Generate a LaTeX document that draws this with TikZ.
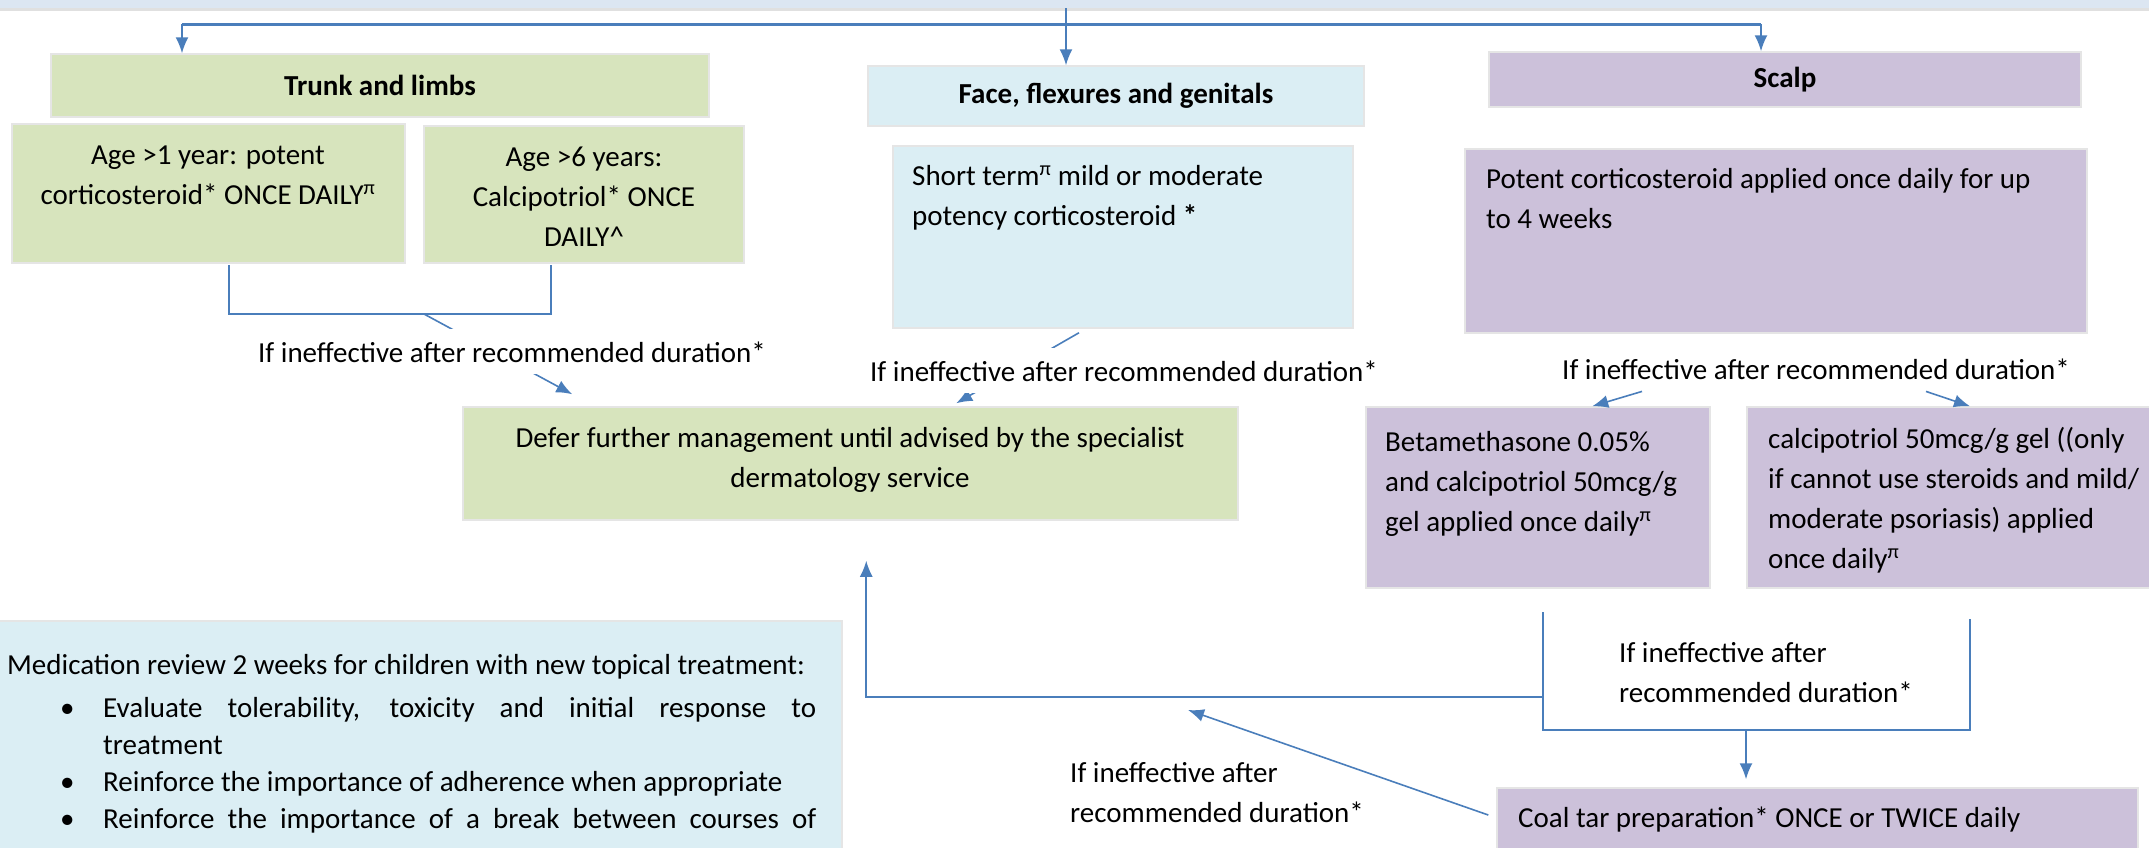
\documentclass[tikz,border=0pt]{standalone}
\usepackage{fontspec}
\setmainfont{Carlito}
\usetikzlibrary{arrows.meta,calc}

\definecolor{boxgreen}{HTML}{D7E4BD}
\definecolor{boxblue}{HTML}{DBEEF4}
\definecolor{boxpurple}{HTML}{CCC1DA}
\definecolor{linkblue}{HTML}{4A7EBB}
\definecolor{bandblue}{HTML}{DCE6F2}

\newcommand{\txtsize}{\fontsize{29}{40}\selectfont}
\newcommand{\lefttxt}[1]{\parbox[t]{700pt}{\raggedright #1}}
\newcommand{\midtxt}[1]{\parbox[t]{800pt}{\centering #1}}

\begin{document}
\begin{tikzpicture}[x=1pt,y=-1pt,font=\txtsize,
	box/.style={rectangle,draw=black!10,line width=1.5pt,inner sep=0pt},
	link/.style={draw=linkblue,line width=1.6pt},
	arr/.style={link,-{Latex[length=16pt,width=13pt]}},
	lbl/.style={anchor=base,fill=white,inner xsep=4pt,inner ysep=12pt},
	txt/.style={anchor=base west,inner sep=0pt}]
	\useasboundingbox (0,0) rectangle (2149,847);
	\begin{scope}
	\clip (0,0) rectangle (2149,847);
	\fill[bandblue] (0,0) rectangle (2149,8);
	\fill[black!12] (0,8) rectangle (2149,11);

	% boxes
	\begin{scope}[every node/.style={box}]
	\node[fill=boxgreen,minimum width=658pt,minimum height=63pt] (trunk) at (380,85.5) {\textbf{Trunk and limbs}};
	\node[fill=boxgreen,minimum width=393pt,minimum height=139pt] (age1) at (208.5,193.5) {};
	\node[fill=boxgreen,minimum width=320pt,minimum height=137pt] (age6) at (584,194.5) {};
	\node[fill=boxblue,minimum width=496pt,minimum height=60pt] (face) at (1116,96) {\textbf{Face, flexures and genitals}};
	\node[fill=boxblue,minimum width=460pt,minimum height=182pt] (facebody) at (1123,237) {};
	\node[fill=boxpurple,minimum width=592pt,minimum height=55pt] (scalp) at (1785,79.5) {\textbf{Scalp}};
	\node[fill=boxpurple,minimum width=622pt,minimum height=184pt] (scalpbody) at (1776,241) {};
	\node[fill=boxgreen,minimum width=775pt,minimum height=113pt] (defer) at (850.5,463.5) {};
	\node[fill=boxpurple,minimum width=344pt,minimum height=181pt] (beta) at (1538,497.5) {};
	\node[fill=boxpurple,minimum width=446pt,minimum height=181pt] (calc) at (1970,497.5) {};
	\node[fill=boxpurple,minimum width=641pt,minimum height=112pt] (coal) at (1817.5,844) {};
	\node[fill=boxblue,minimum width=847pt,minimum height=279pt] (med) at (418.5,760.5) {};
	\end{scope}

	% box texts
	\node[anchor=base,inner sep=0pt] (age1txt) at (208,164) {\midtxt{Age >1 year: potent\\corticosteroid* ONCE DAILY\textsuperscript{π}}};
	\node[anchor=base,inner sep=0pt] (age6txt) at (584,166) {\midtxt{Age >6 years:\\Calcipotriol* ONCE\\DAILY\textasciicircum}};
	\node[txt] (facetxt) at (912,185) {\lefttxt{Short term\textsuperscript{π} mild or moderate\\potency corticosteroid \textbf{*}}};
	\node[txt] (scalptxt) at (1486,188) {\lefttxt{Potent corticosteroid applied once daily for up\\to 4 weeks}};
	\node[anchor=base,inner sep=0pt] (defertxt) at (850,447) {\midtxt{Defer further management until advised by the specialist\\dermatology service}};
	\node[txt] (betatxt) at (1385,451) {\lefttxt{Betamethasone 0.05\%\\and calcipotriol 50mcg/g\\gel applied once daily\textsuperscript{π}}};
	\node[txt] (calctxt) at (1768,448) {\lefttxt{calcipotriol 50mcg/g gel ((only\\if cannot use steroids and mild/\\moderate psoriasis) applied\\once daily\textsuperscript{π}}};
	\node[txt] (coaltxt) at (1518,827) {Coal tar preparation* ONCE or TWICE daily};
	\node[txt] (medtxt) at (7,674) {\parbox[t]{900pt}{\raggedright\fontsize{29}{37}\selectfont
		Medication review 2 weeks for children with new topical treatment:\\[6pt]
		\makebox[96pt][l]{\hspace*{53pt}\textbullet}\makebox[713pt][s]{Evaluate tolerability, toxicity and initial response to}\\
		\hspace*{96pt}treatment\\
		\makebox[96pt][l]{\hspace*{53pt}\textbullet}Reinforce the importance of adherence when appropriate\\
		\makebox[96pt][l]{\hspace*{53pt}\textbullet}\makebox[713pt][s]{Reinforce the importance of a break between courses of}}};

	% top split
	\coordinate (topsrc) at (1066,8);
	\coordinate (fork-l) at (182,24);
	\coordinate (fork-r) at (1761,24);
	\draw[link,line width=3pt] (fork-l) -- (fork-r);
	\draw[arr] (topsrc) -- (topsrc |- face.north);
	\draw[arr] (fork-l) -- (fork-l |- trunk.north);
	\draw[arr] (fork-r) -- (fork-r |- scalp.north);

	% trunk and limbs
	\coordinate (tb-l) at (229,265);
	\coordinate (tb-r) at (551,265);
	\draw[link] (tb-l) -- ++(0,49) -| (tb-r);
	\draw[arr] ($(tb-l)+(195,49)$) -- ($(defer.north west)+(110,-12)$);
	\node[lbl] (lbl-trunk) at (512,362) {If ineffective after recommended duration*};

	% face
	\draw[arr] ($(facebody.south)+(-44,4)$) -- ($(defer.north west)+(494,-3)$);
	\node[lbl] (lbl-face) at (1124,381) {If ineffective after recommended duration*};

	% scalp
	\node[lbl] (lbl-scalp) at (1816,379) {If ineffective after recommended duration*};
	\draw[arr] ([xshift=-174pt]lbl-scalp.south) -- ($(beta.north west)+(227,0)$);
	\draw[arr] ([xshift=110pt]lbl-scalp.south) -- (calc.north);

	\coordinate (bb-l) at (1543,612);
	\coordinate (bb-r) at (1970,619);
	\coordinate (bb-m) at (1746,730);
	\coordinate (bb-h) at (1543,697);
	\draw[link] (bb-l) |- (bb-m) -| (bb-r);
	\draw[arr,shorten >=8pt] (bb-m) -- (bb-m |- coal.north);
	\draw[arr,shorten >=40pt] (bb-h) -| ($(defer.south west)+(404,0)$);
	\node[txt] (lbl-beta) at (1619,662) {\lefttxt{If ineffective after\\recommended duration*}};

	% coal tar
	\coordinate (ret) at (1188,710);
	\draw[arr] ($(coal.west)+(-8,-29)$) -- (ret);
	\node[txt] (lbl-coal) at (1070,782) {\lefttxt{If ineffective after\\recommended duration*}};
	\end{scope}
\end{tikzpicture}
\end{document}
